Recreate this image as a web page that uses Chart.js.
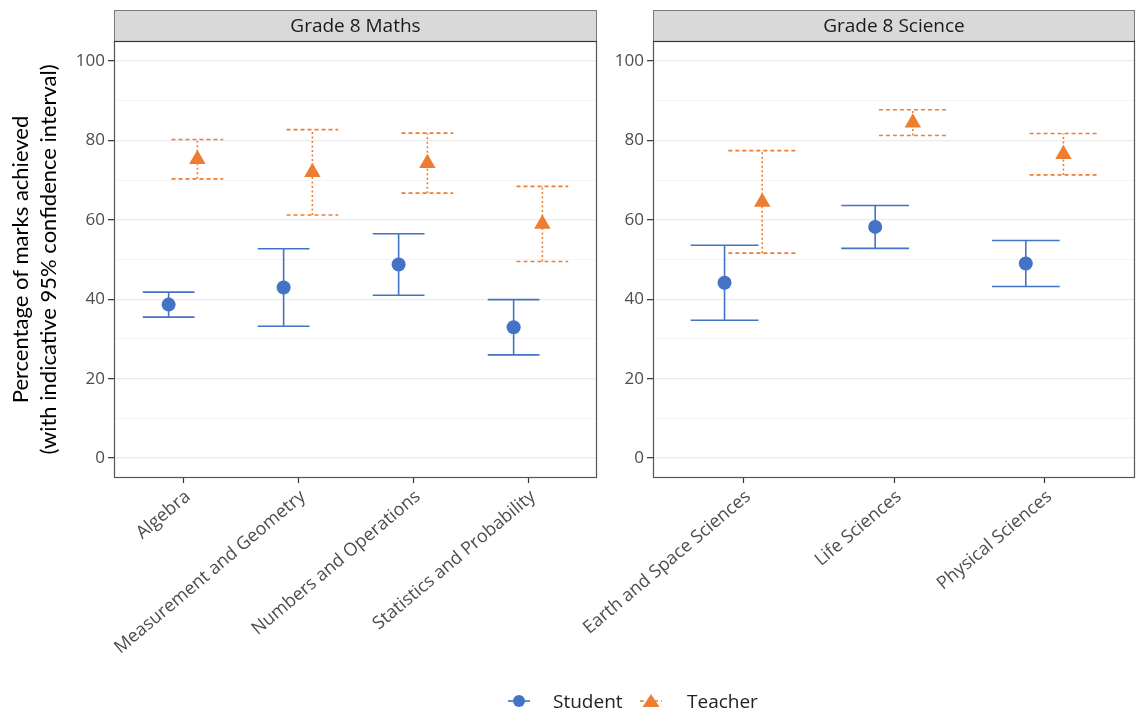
<!DOCTYPE html>
<html><head><meta charset="utf-8">
<script src="https://cdn.jsdelivr.net/npm/chart.js@4.4.1/dist/chart.umd.min.js"></script>
<style>
html,body{margin:0;padding:0;background:#fff;}
#wrap{position:relative;width:1136px;height:712px;overflow:hidden;background:#fff;}
#c1{position:absolute;left:0;top:0;}
#c2{position:absolute;left:480px;top:0;}
.leg{position:absolute;font-family:'Open Sans';font-size:19px;color:#222;line-height:22px;white-space:nowrap;}
#legsvg{position:absolute;left:500px;top:690px;}
</style></head><body>
<div id="wrap">
<canvas id="c1" width="600" height="712"></canvas>
<canvas id="c2" width="656" height="712"></canvas>
<svg id="legsvg" width="170" height="22" viewBox="0 0 170 22">
  <line x1="8" y1="11" x2="30" y2="11" stroke="#4472C4" stroke-width="1.6"/>
  <circle cx="19" cy="11" r="6" fill="#4472C4"/>
  <line x1="140" y1="11" x2="162" y2="11" stroke="#ED7D31" stroke-width="1.6" stroke-dasharray="4 3"/>
  <polygon points="151,4 159.5,17 142.5,17" fill="#ED7D31"/>
</svg>
<div class="leg" style="left:553px;top:690px;">Student</div>
<div class="leg" style="left:687px;top:690px;">Teacher</div>
</div>
<script>
// ---- data ----
const mathsCats = ['Algebra', 'Measurement and Geometry', 'Numbers and Operations', 'Statistics and Probability'];
const mathsStudent   = [38.65, 42.95, 48.75, 32.95];
const mathsStudentLo = [35.5, 33.2, 41.0, 26.0];
const mathsStudentHi = [41.8, 52.7, 56.5, 39.9];
const mathsTeacher   = [75.25, 71.95, 74.25, 58.95];
const mathsTeacherLo = [70.3, 61.2, 66.7, 49.5];
const mathsTeacherHi = [80.2, 82.7, 81.8, 68.4];

const sciCats = ['Earth and Space Sciences', 'Life Sciences', 'Physical Sciences'];
const sciStudent   = [44.15, 58.2, 49.0];
const sciStudentLo = [34.7, 52.8, 43.2];
const sciStudentHi = [53.6, 63.6, 54.8];
const sciTeacher   = [64.5, 84.45, 76.5];
const sciTeacherLo = [51.6, 81.2, 71.3];
const sciTeacherHi = [77.4, 87.7, 81.7];

const yTicks = [0, 10, 20, 30, 40, 50, 60, 70, 80, 90, 100];
const yTitle = ['Percentage of marks achieved', '(with indicative 95% confidence interval)'];
const seriesNames = ['Student', 'Teacher'];

const BLUE = '#4472C4', ORANGE = '#ED7D31';
const DODGE = 0.125, CAP = 0.225;

Chart.defaults.font.family = "'Open Sans'";
Chart.defaults.animation = false;

const errorBars = {
  id: 'errorBars',
  beforeDatasetsDraw(chart) {
    const {ctx, scales: {x, y}} = chart;
    chart.data.datasets.forEach(ds => {
      if (!ds.errLo) return;
      ctx.save();
      ctx.strokeStyle = ds.borderColor;
      ctx.lineWidth = 1.6;
      ds.data.forEach((pt, i) => {
        const px = x.getPixelForValue(pt.x);
        const pl = x.getPixelForValue(pt.x - CAP);
        const pr = x.getPixelForValue(pt.x + CAP);
        const pLo = y.getPixelForValue(ds.errLo[i]);
        const pHi = y.getPixelForValue(ds.errHi[i]);
        ctx.setLineDash(ds.vDash);
        ctx.beginPath(); ctx.moveTo(px, pLo); ctx.lineTo(px, pHi); ctx.stroke();
        ctx.setLineDash(ds.capDash);
        ctx.beginPath();
        ctx.moveTo(pl, pLo); ctx.lineTo(pr, pLo);
        ctx.moveTo(pl, pHi); ctx.lineTo(pr, pHi);
        ctx.stroke();
      });
      ctx.restore();
    });
  }
};

const panelDecor = {
  id: 'panelDecor',
  afterDraw(chart, args, opts) {
    const {ctx, chartArea: a} = chart;
    ctx.save();
    // strip
    ctx.fillStyle = '#d9d9d9';
    ctx.fillRect(a.left, 10, a.right - a.left, a.top - 10);
    ctx.strokeStyle = '#7a7a7a';
    ctx.lineWidth = 1;
    ctx.strokeRect(a.left + 0.5, 10.5, a.right - a.left - 1, a.top - 10);
    ctx.fillStyle = '#1a1a1a';
    ctx.font = "19px 'Open Sans'";
    ctx.textAlign = 'center';
    ctx.textBaseline = 'middle';
    ctx.fillText(opts.title, (a.left + a.right) / 2, (10 + a.top) / 2 + 1);
    // panel border
    ctx.strokeStyle = '#555';
    ctx.lineWidth = 1.2;
    ctx.strokeRect(a.left + 0.5, a.top + 0.5, a.right - a.left - 1, a.bottom - a.top - 1);
    ctx.beginPath();
    ctx.strokeStyle = '#333';
    ctx.moveTo(a.left, a.top + 0.5); ctx.lineTo(a.right, a.top + 0.5);
    ctx.stroke();
    ctx.restore();
  }
};

function makeChart(id, cats, st, stLo, stHi, te, teLo, teHi, title, yWidth, showTitle, padRight) {
  const n = cats.length;
  return new Chart(document.getElementById(id), {
    type: 'scatter',
    data: {
      datasets: [
        {
          label: seriesNames[0],
          data: st.map((v, i) => ({x: i - DODGE, y: v})),
          errLo: stLo, errHi: stHi, vDash: [], capDash: [],
          backgroundColor: BLUE, borderColor: BLUE,
          pointStyle: 'circle', pointRadius: 7, pointBorderWidth: 0
        },
        {
          label: seriesNames[1],
          data: te.map((v, i) => ({x: i + DODGE, y: v})),
          errLo: teLo, errHi: teHi, vDash: [2, 2.5], capDash: [4, 3],
          backgroundColor: ORANGE, borderColor: ORANGE,
          pointStyle: 'triangle', pointRadius: 9.5, pointBorderWidth: 0
        }
      ]
    },
    options: {
      responsive: false,
      animation: false,
      layout: {autoPadding: false, padding: {top: 41, right: padRight, left: 0, bottom: 0}},
      plugins: {
        legend: {display: false},
        tooltip: {enabled: false},
        panelDecor: {title: title}
      },
      scales: {
        x: {
          type: 'linear',
          min: -0.6, max: n - 1 + 0.6,
          afterBuildTicks: s => { s.ticks = cats.map((c, i) => ({value: i})); },
          afterFit: s => { s.height = 712 - 478; s.paddingLeft = 0; s.paddingRight = 0; },
          border: {display: false},
          grid: {drawOnChartArea: false, drawTicks: true, tickLength: 5, tickColor: '#333', tickWidth: 1.2, color: 'rgba(0,0,0,0)'},
          ticks: {
            autoSkip: false, minRotation: 40, maxRotation: 40, padding: 3, labelOffset: 5,
            color: '#4d4d4d', font: {size: 18},
            callback: v => cats[v]
          }
        },
        y: {
          min: -5, max: 105,
          afterBuildTicks: s => { s.ticks = yTicks.map(v => ({value: v})); },
          afterFit: s => { s.width = yWidth; },
          border: {display: false},
          grid: {
            drawTicks: true, tickLength: 6,
            color: c => (c.tick && c.tick.value % 20 === 0) ? '#ebebeb' : '#f3f3f3',
            lineWidth: c => (c.tick && c.tick.value % 20 === 0) ? 1.3 : 0.9,
            tickColor: c => (c.tick && c.tick.value % 20 === 0) ? '#333' : 'rgba(0,0,0,0)',
            tickWidth: 1.2
          },
          ticks: {
            padding: 3, color: '#4d4d4d', font: {size: 17},
            callback: v => (v % 20 === 0 ? String(v) : '')
          },
          title: {
            display: showTitle, text: yTitle, color: '#000',
            font: {family: 'Lato', size: 22, lineHeight: 28 / 22},
            padding: {top: 7, bottom: 0}
          }
        }
      }
    },
    plugins: [errorBars, panelDecor]
  });
}

makeChart('c1', mathsCats, mathsStudent, mathsStudentLo, mathsStudentHi,
          mathsTeacher, mathsTeacherLo, mathsTeacherHi, 'Grade 8 Maths', 114, true, 3);
makeChart('c2', sciCats, sciStudent, sciStudentLo, sciStudentHi,
          sciTeacher, sciTeacherLo, sciTeacherHi, 'Grade 8 Science', 173, false, 1);
</script>
</body></html>
